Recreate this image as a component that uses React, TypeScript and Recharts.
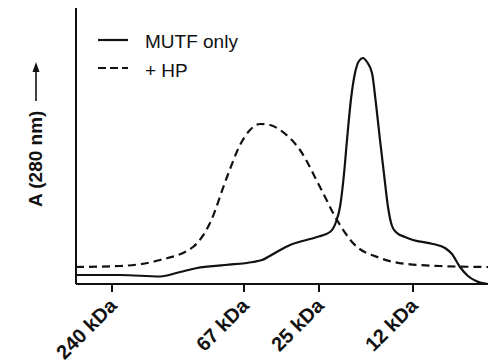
import { LineChart, Line, XAxis, YAxis } from 'recharts';

// elution position (arbitrary units) and absorbance
const solidX = [0, 44, 84, 104, 121, 149, 177, 186, 199, 214, 241, 254, 260, 264, 268, 271, 275, 279, 283, 287, 291, 296, 300, 304, 308, 312, 316, 321, 329, 337, 357, 369, 376, 384, 392, 400, 412];
const solidY = [9, 9, 7.5, 12, 16, 19, 22, 24, 31, 39, 47, 52, 62, 77, 110, 144, 185, 211, 223, 226, 222, 211, 180, 144, 110, 77, 58, 51, 47, 44, 40, 36, 30, 17, 8, 3, 0];

const dashX = [0, 44, 84, 117, 134, 151, 164, 174, 184, 194, 204, 224, 244, 261, 277, 304, 331, 364, 412];
const dashY = [17, 18, 24, 37, 61, 107, 139, 154, 160, 159, 154, 134, 97, 64, 41, 26, 20, 18, 17];

const markerPos = [36, 168, 243, 337];
const markerLabels = ['240 kDa', '67 kDa', '25 kDa', '12 kDa'];

const seriesNames = ['MUTF only', '+ HP'];

const solidData = solidX.map((x, i) => ({ x, y: solidY[i] }));
const dashData = dashX.map((x, i) => ({ x, y: dashY[i] }));

const FONT = '"Liberation Sans", Arial, sans-serif';
const INK = '#111';

const MarkerTick = ({ x, y, payload }: any) => {
  const i = markerPos.indexOf(payload.value);
  const tx = x + 6;
  const ty = y + 13;
  return (
    <text
      x={tx}
      y={ty}
      textAnchor="end"
      transform={`rotate(-45, ${tx}, ${ty})`}
      fontFamily={FONT}
      fontWeight="bold"
      fontSize={20}
      fill={INK}
    >
      {markerLabels[i]}
    </text>
  );
};

const YLabel = () => (
  <g>
    <text
      x={42}
      y={207}
      transform="rotate(-90, 42, 207)"
      fontFamily={FONT}
      fontWeight="bold"
      fontSize={19}
      fill={INK}
    >
      A (280 nm)
    </text>
    <line x1={36} y1={101} x2={36} y2={70} stroke={INK} strokeWidth={1.6} />
    <polygon points="36,62 32.5,72 39.5,72" fill={INK} />
  </g>
);

// legend drawn as an overlay so it doesn't eat plot space
const LegendBox = () => (
  <svg width={200} height={60} style={{ position: 'absolute', left: 98, top: 25 }}>
    <line x1={0} y1={15} x2={30} y2={15} stroke={INK} strokeWidth={2.2} />
    <text x={47} y={23} fontFamily={FONT} fontSize={19} fill={INK}>{seriesNames[0]}</text>
    <line x1={0} y1={43} x2={30} y2={43} stroke={INK} strokeWidth={2.2} strokeDasharray="8 4" />
    <text x={47} y={52} fontFamily={FONT} fontSize={19} fill={INK}>{seriesNames[1]}</text>
  </svg>
);

export default function App() {
  return (
    <div style={{ position: 'absolute', left: 0, top: 0, width: 488, height: 363, background: '#fff' }}>
      <LineChart width={488} height={363} margin={{ top: 8, right: 0, left: 0, bottom: 0 }}>
        <XAxis
          dataKey="x"
          type="number"
          domain={[0, 412]}
          ticks={markerPos}
          allowDataOverflow
          height={79}
          tickSize={8}
          tickLine={{ stroke: INK, strokeWidth: 2 }}
          axisLine={{ stroke: INK, strokeWidth: 2 }}
          tick={<MarkerTick />}
          interval={0}
        />
        <YAxis
          type="number"
          domain={[0, 276]}
          width={76}
          tick={false}
          tickLine={false}
          axisLine={{ stroke: INK, strokeWidth: 2 }}
          label={<YLabel />}
        />
        <Line
          data={solidData}
          dataKey="y"
          name={seriesNames[0]}
          type="monotone"
          stroke={INK}
          strokeWidth={2.2}
          dot={false}
          isAnimationActive={false}
        />
        <Line
          data={dashData}
          dataKey="y"
          name={seriesNames[1]}
          type="monotone"
          stroke={INK}
          strokeWidth={2.2}
          strokeDasharray="8 5"
          dot={false}
          isAnimationActive={false}
        />
      </LineChart>
      <LegendBox />
    </div>
  );
}
